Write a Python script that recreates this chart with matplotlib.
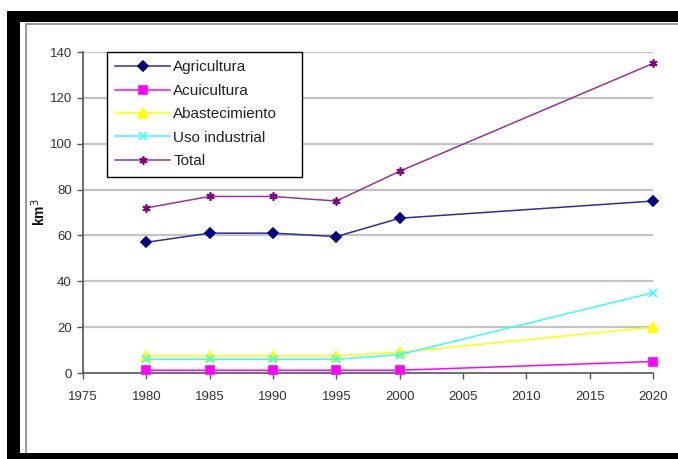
import matplotlib
matplotlib.use("Agg")
import matplotlib.pyplot as plt
from matplotlib.patches import Rectangle

plt.rcParams['font.family'] = ['Liberation Sans', 'DejaVu Sans']

years = [1980, 1985, 1990, 1995, 2000, 2020]
agricultura = [57, 61, 61, 59.5, 67.5, 75]
acuicultura = [1.2, 1.2, 1.2, 1.2, 1.2, 5]
abastecimiento = [7.5, 7.5, 7.5, 7.5, 9, 20]
uso_industrial = [6, 6, 6, 6, 8, 35]
total = [72, 77, 77, 75, 88, 135]

x_ticks = [1975, 1980, 1985, 1990, 1995, 2000, 2005, 2010, 2015, 2020]
y_ticks = [0, 20, 40, 60, 80, 100, 120, 140]

W, H = 678, 459
fig = plt.figure(figsize=(W / 100, H / 100), dpi=100)
fig.patch.set_facecolor('white')

# black frame bands and the grey inner border
def px_rect(x0, y0, x1, y1, color):
    fig.add_artist(Rectangle((x0 / W, 1 - y1 / H), (x1 - x0) / W, (y1 - y0) / H,
                             transform=fig.transFigure, facecolor=color,
                             edgecolor='none', zorder=10))

px_rect(7, 11, W, 22, 'black')
px_rect(7, 11, 20, H, 'black')
px_rect(7, 453, W, H, 'black')
px_rect(25, 23, W, 25, '#9a9a9a')
px_rect(25, 23, 27, 453, '#9a9a9a')

ax = fig.add_axes([83 / W, 1 - 373 / H, (653 - 83) / W, (373 - 52) / H])

series = [
    ("Agricultura", agricultura, '#000080', '#2e2e99', 'D', 5),
    ("Acuicultura", acuicultura, '#ff00ff', '#ff00ff', 's', 6),
    ("Abastecimiento", abastecimiento, '#ffff00', '#ffff00', '^', 7),
    ("Uso industrial", uso_industrial, '#33ffff', '#33ffff', 'x', 5.5),
    ("Total", total, '#800080', '#993399', (6, 2, 0), 6),
]

for label, vals, mcol, lcol, mk, ms in series:
    ax.plot(years, vals, color=lcol, lw=1.1, marker=mk, ms=ms,
            markerfacecolor=mcol, markeredgecolor=mcol, mew=1.2,
            label=label, zorder=3, clip_on=False)

ax.set_xlim(1975, 2020)
ax.set_ylim(0, 140)
ax.set_xticks(x_ticks)
ax.set_yticks(y_ticks)
for y in y_ticks[1:]:
    ax.axhline(y, color='#c4c4c4', lw=1.6, zorder=1)

for s in ['top', 'right']:
    ax.spines[s].set_visible(False)
for s in ['left', 'bottom']:
    ax.spines[s].set_color('#555555')
    ax.spines[s].set_linewidth(1.2)

ax.tick_params(axis='both', direction='out', length=4, width=1, color='#555555',
               labelsize=9.5, labelcolor='#333333')
ax.tick_params(axis='x', pad=9)
ax.tick_params(axis='y', pad=4)

ax.set_ylabel('km$^3$', fontsize=10, fontweight='bold', color='#111111')
ax.yaxis.set_label_coords(-0.062, 0.5)

leg = ax.legend(loc='upper left', bbox_to_anchor=(0.042, 0.5, 0.342, 0.5),
                mode='expand', borderaxespad=0,
                frameon=True, fancybox=False, edgecolor='black', framealpha=1,
                fontsize=11, handlelength=3.6, handletextpad=0.2,
                labelspacing=0.62, borderpad=0.55)
leg.get_frame().set_linewidth(1.0)
for t in leg.get_texts():
    t.set_color('#222222')

fig.savefig('out.png', dpi=100, facecolor='white')
